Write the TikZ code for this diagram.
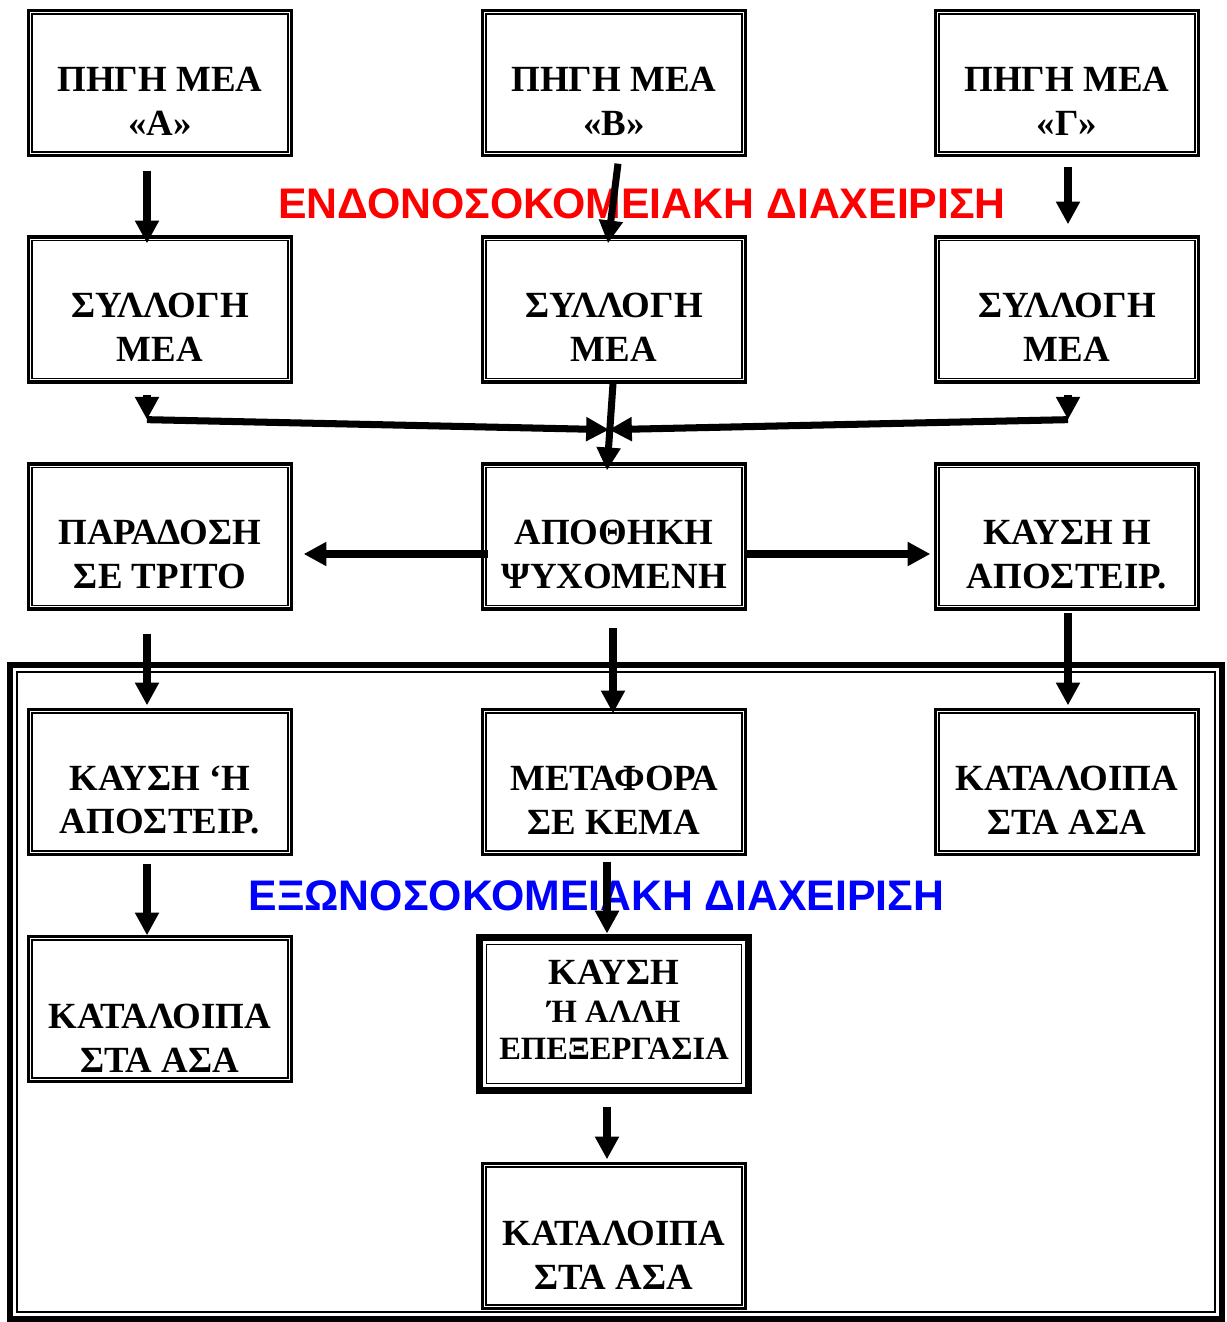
\documentclass[tikz,border=0pt]{standalone}
\usepackage{fontspec}
\setmainfont{Liberation Serif}
\newfontfamily\zonefont{Liberation Sans}
\usepackage{tikz}
\usetikzlibrary{arrows.meta,calc}

\begin{document}
\begin{tikzpicture}[
        x=0.02cm,
        y=-0.02cm,
        box/.style={draw, line width=1.9pt, minimum width=5.26cm, minimum height=2.9cm, inner sep=0pt},
        inframe/.style={line width=0.8pt},
        txt/.style={font=\bfseries\fontsize{21}{25}\selectfont, align=center, inner sep=0pt},
        zone/.style={font=\zonefont\bfseries\fontsize{24.35}{28}\selectfont, inner sep=0pt},
        arr/.style={line width=4pt, -{Triangle[length=13pt,width=13pt]}}
    ]
        \useasboundingbox (0,0) rectangle (1227,1322);

        % zone titles (under the arrows)
        \node[zone, text=red] (inZone) at (642,204) {ΕΝΔΟΝΟΣΟΚΟΜΕΙΑΚΗ ΔΙΑΧΕΙΡΙΣΗ};
        \node[zone, text=blue] (outZone) at (596.5,896) {ΕΞΩΝΟΣΟΚΟΜΕΙΑΚΗ ΔΙΑΧΕΙΡΙΣΗ};

        % frame of the external part
        \draw[line width=3.4pt] (10,665) rectangle (1222,1319);
        \draw[inframe] (17,672) rectangle (1215,1312);

        \foreach \n/\x/\y/\dy/\lab in {
            srcA/160/83/18/{ΠΗΓΗ ΜΕΑ\\«Α»},
            srcB/614/83/18/{ΠΗΓΗ ΜΕΑ\\«Β»},
            srcC/1067/83/18/{ΠΗΓΗ ΜΕΑ\\«Γ»},
            colA/160/309.5/18/{ΣΥΛΛΟΓΗ\\ΜΕΑ},
            colB/614/309.5/18/{ΣΥΛΛΟΓΗ\\ΜΕΑ},
            colC/1067/309.5/18/{ΣΥΛΛΟΓΗ\\ΜΕΑ},
            deliver/160/536.5/18/{ΠΑΡΑΔΟΣΗ\\ΣΕ ΤΡΙΤΟ},
            store/614/536.5/18/{ΑΠΟΘΗΚΗ\\ΨΥΧΟΜΕΝΗ},
            burn/1067/536.5/18/{ΚΑΥΣΗ Η\\ΑΠΟΣΤΕΙΡ.},
            incA/160/782/18/{ΚΑΥΣΗ ‘Η\\ΑΠΟΣΤΕΙΡ.},
            trans/614/782/18/{ΜΕΤΑΦΟΡΑ\\ΣΕ ΚΕΜΑ},
            resC/1067/782/18/{ΚΑΤΑΛΟΙΠΑ\\ΣΤΑ ΑΣΑ},
            resA/160/1009/29/{ΚΑΤΑΛΟΙΠΑ\\ΣΤΑ ΑΣΑ},
            resB/614/1236/19/{ΚΑΤΑΛΟΙΠΑ\\ΣΤΑ ΑΣΑ}}{
            \node[box] (\n) at (\x,\y) {};
            \draw[inframe] ($(\n.north west)+(5,5)$) rectangle ($(\n.south east)-(5,5)$);
            \node[txt] (\n-txt) at (\x,{\y+\dy}) {\lab};
        }

        % heavy box
        \node[box, line width=4.5pt, minimum width=5.38cm, minimum height=3.06cm] (treat) at (614,1014) {};
        \draw[line width=0.75pt] ($(treat.north west)+(6.5,6.5)$) rectangle ($(treat.south east)-(6.5,6.5)$);
        \draw[inframe] ($(treat.north west)+(11,11)$) rectangle ($(treat.south east)-(11,11)$);
        \node[txt, font=\bfseries\fontsize{21}{21.5}\selectfont] (treat-txt) at (614,1010)
            {ΚΑΥΣΗ\\{\fontsize{18.5}{21.5}\selectfont Ή ΑΛΛΗ}\\{\fontsize{18.5}{21.5}\selectfont ΕΠΕΞΕΡΓΑΣΙΑ}};

        % merge points
        \coordinate (mL) at ($(colA.south)+(-13,36)$);
        \coordinate (mR) at ($(colC.south)+(1,36)$);
        \coordinate (mC) at ($(colB.south)+(-5,46)$);

        \draw[arr] ($(srcA.south)+(-13,13.5)$) -- ($(colA.north)+(-13,8)$);
        \draw[arr] ($(srcB.south)+(4,6.5)$) -- ($(colB.north)+(-6,8)$);
        \draw[arr] ($(srcC.south)+(1,9.5)$) -- ($(colC.north)+(1,-11)$);

        \draw[arr] ($(colA.south)+(-13,11)$) -- (mL);
        \draw[arr] ($(colC.south)+(1,11)$) -- (mR);
        \draw[arr] (mL) -- (mC);
        \draw[arr] (mR) -- (mC);
        \draw[arr] ($(colB.south)+(-1,0)$) -- ($(store.north)+(-7,8)$);

        \draw[arr] ($(store.west)+(7.5,17.5)$) -- ($(deliver.east)+(10.5,17.5)$);
        \draw[arr] ($(store.east)+(-3.5,17.5)$) -- ($(burn.west)+(-3.5,17.5)$);

        \draw[arr] ($(deliver.south)+(-13,23)$) -- ($(incA.north)+(-13,-2.5)$);
        \draw[arr] ($(store.south)+(-1,17)$) -- ($(trans.north)+(-1,5.5)$);
        \draw[arr] ($(burn.south)+(1,2)$) -- ($(resC.north)+(1,-2.5)$);

        \draw[arr] ($(incA.south)+(-13,7.5)$) -- ($(resA.north)+(-13,0.5)$);
        \draw[arr] ($(trans.south)+(-7,5.5)$) -- ($(treat.north)+(-7,0)$);
        \draw[arr] ($(treat.south)+(-7,12.5)$) -- ($(resB.north)+(-7,-2.5)$);
    \end{tikzpicture}
\end{document}
